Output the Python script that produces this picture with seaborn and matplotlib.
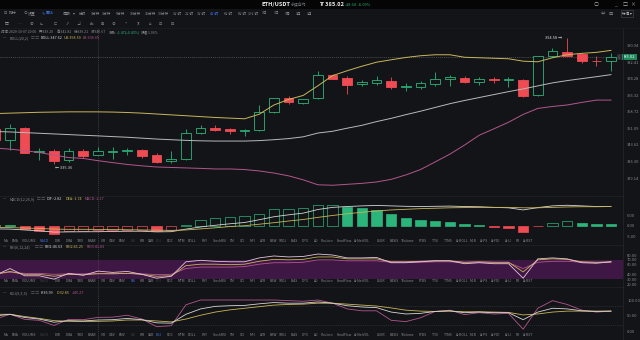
import matplotlib
matplotlib.use("Agg")
import matplotlib.pyplot as plt
import matplotlib.ticker as mticker
import numpy as np
import pandas as pd
import seaborn as sns

# ---------------- data ----------------
candle_idx = list(range(-1, 42))
opens = [350.6, 345.7, 351.4, 340.4, 340.7, 336.9, 340.9, 339.25, 340.4, 340.7, 341.4, 339.2, 336.3, 337.5,
         348.9, 351.0, 350.7, 349.6, 350.1, 358.7, 364.9, 362.8, 364.9, 375.9, 374.7, 371.8, 372.3, 373.4,
         370.2, 370.2, 371.8, 374.0, 374.7, 372.8, 374.2, 373.7, 373.9, 366.3, 385.3, 387.4, 386.4, 383.1, 382.8]
highs = [351.4, 353.2, 351.6, 342.0, 341.7, 342.4, 341.7, 342.82, 342.7, 342.4, 341.7, 340.2, 340.7, 350.6,
         352.6, 352.6, 351.4, 350.7, 362.0, 365.2, 365.9, 364.7, 377.9, 376.6, 375.5, 373.5, 375.5, 375.0,
         372.3, 373.1, 377.6, 376.3, 375.7, 375.0, 375.3, 375.2, 374.4, 385.7, 389.4, 394.58, 386.9, 385.3, 386.9]
lows = [344.8, 341.2, 340.0, 336.9, 335.36, 335.9, 337.6, 339.21, 337.3, 339.2, 337.9, 335.5, 335.6, 336.8,
        348.3, 349.8, 348.3, 347.5, 349.8, 358.2, 362.4, 362.4, 364.4, 374.0, 367.1, 370.7, 371.5, 369.6,
        368.3, 369.6, 370.7, 370.7, 372.1, 371.1, 372.3, 370.2, 365.7, 365.9, 385.0, 385.3, 382.0, 380.3, 378.2]
closes = [345.7, 351.4, 340.2, 340.9, 336.6, 340.9, 338.9, 340.67, 340.9, 341.5, 338.9, 336.2, 337.5, 349.1,
          351.0, 350.5, 349.6, 350.3, 358.7, 364.9, 363.0, 364.4, 376.3, 374.4, 371.5, 372.6, 373.5, 370.2,
          370.7, 372.1, 374.2, 375.0, 372.8, 374.2, 373.5, 374.4, 365.9, 385.3, 388.2, 385.7, 382.8, 382.8, 385.02]

boll_upper = [357.8, 358.0, 358.2, 358.4, 358.5, 358.6, 358.6, 358.59, 358.5, 358.3, 358.0, 357.6, 357.2, 356.8,
              356.4, 356.0, 355.7, 355.4, 357.5, 361.8, 364.4, 366.3, 370.9, 375.8, 378.2, 380.4, 382.4, 383.6,
              384.75, 385.6, 386.1, 386.1, 384.85, 384.6, 384.35, 384.1, 382.9, 382.6, 384.6, 386.1, 386.8, 387.3, 388.3]
boll_mid = [349.6, 349.4, 349.1, 348.8, 348.5, 348.2, 347.9, 347.62, 347.3, 347.0, 346.6, 346.2, 345.9, 345.6,
            345.4, 345.3, 345.3, 345.3, 345.5, 345.9, 346.4, 347.2, 348.9, 349.7, 351.1, 352.4, 354.1, 355.6,
            357.3, 358.9, 360.65, 362.4, 363.9, 365.3, 366.7, 368.1, 369.4, 370.85, 372.3, 373.4, 374.35, 375.3, 376.3]
boll_lower = [342.15, 341.7, 341.05, 340.2, 339.1, 338.0, 337.6, 336.65, 335.8, 335.0, 334.4, 333.9, 333.7, 333.5,
              333.3, 333.05, 333.05, 332.8, 332.2, 331.3, 330.1, 328.4, 326.3, 326.1, 326.5, 326.9, 327.5, 328.6,
              330.5, 332.8, 336.1, 339.5, 343.5, 347.9, 350.8, 353.8, 357.4, 360.2, 361.1, 361.8, 363.0, 364.1, 364.1]

macd_dif = [-1.5, -1.6, -2.0, -2.4, -3.0, -2.9, -2.85, -2.82, -2.7, -2.6, -2.6, -2.9, -2.8, -1.6, -0.6, 0.2,
            0.9, 1.5, 2.8, 4.2, 5.1, 5.9, 7.6, 8.6, 9.0, 9.3, 9.5, 9.3, 9.1, 9.0, 9.1, 9.2, 9.0, 8.9, 8.6,
            8.4, 7.4, 8.5, 9.3, 9.6, 9.3, 9.0, 9.0]
macd_dea = [-0.8, -0.9, -1.1, -1.3, -1.6, -1.7, -1.7, -1.74, -1.8, -1.9, -2.0, -2.1, -2.2, -2.0, -1.5, -1.0,
            -0.4, 0.0, 0.7, 1.4, 2.2, 2.9, 3.9, 4.8, 5.6, 6.3, 6.9, 7.4, 7.7, 8.0, 8.2, 8.4, 8.5, 8.6, 8.6,
            8.6, 8.4, 8.4, 8.6, 8.8, 8.9, 8.9, 9.0]
macd_hist = [0.5, 0.3, -1.7, -2.5, -4.0, -2.4, -2.3, -2.17, -2.1, -1.9, -1.8, -2.3, -1.9, 0.5, 2.7, 3.4,
             4.2, 4.5, 5.7, 7.8, 7.8, 8.1, 9.5, 9.6, 8.8, 8.1, 7.3, 5.5, 3.8, 2.7, 2.4, 1.8, 1.0, 0.4, -0.4,
             -1.3, -2.8, -0.15, 1.5, 2.2, 1.5, 0.8, 0.6]

rsi1 = [38, 52, 37, 37, 30, 42, 38, 46.63, 44, 46, 40, 32, 36, 66, 69, 67, 66, 66, 74, 78, 76, 77, 82, 80,
        74, 74, 75, 64, 64, 66, 68, 68, 62, 64, 62, 62, 32, 72, 74, 72, 64, 63, 66]
rsi2 = [40, 46, 40, 40, 36, 40, 39, 41.25, 41, 42, 40, 36, 37, 58, 61, 61, 60, 61, 67, 71, 70, 71, 76, 76,
        72, 72, 72, 66, 66, 67, 68, 68, 65, 66, 65, 65, 45, 70, 72, 71, 66, 65, 66]
rsi3 = [42, 44, 42, 42, 40, 41, 41, 41.83, 42, 42, 41, 39.5, 40, 52, 55, 55, 55, 56, 61, 64, 64, 65, 70, 70,
        68, 68, 68, 65, 65, 65, 66, 66, 64, 64.5, 64, 64, 52, 65, 67, 67, 65, 64, 64.5]

kdj_k = [50, 55, 45, 40, 30, 35, 34, 36.99, 38, 42, 38, 28, 27, 55, 72, 80, 82, 83, 88, 92, 90, 90, 94, 90,
         82, 78, 76, 62, 56, 58, 64, 66, 60, 62, 60, 60, 38, 62, 74, 72, 66, 64, 65]
kdj_d = [55, 55, 48, 42, 35, 33, 32, 32.85, 34, 37, 37, 34, 31, 40, 52, 62, 69, 74, 79, 84, 86, 87, 90, 90,
         87, 84, 81, 75, 68, 65, 64, 65, 63, 63, 62, 61, 53, 56, 62, 65, 65, 65, 65]
kdj_j = [40, 55, 39, 36, 20, 39, 38, 45.27, 46, 52, 40, 16, 19, 85, 100, 100, 100, 100, 100, 100, 98, 96, 100,
         90, 72, 66, 66, 36, 32, 44, 64, 68, 54, 60, 56, 58, 8, 74, 98, 86, 68, 62, 65]

price_ticks = [390.94, 382.41, 374.28, 366.32, 358.72, 351.09, 343.62, 336.30, 329.14]
macd_ticks = [5.0, 0.0, -5.0]
rsi_ticks = [80, 70, 60, 40, 30, 20]
kdj_ticks = [100, 50, 0]
last_price = 385.02
high_mark = 394.58
low_mark = 335.36

# ---------------- style ----------------
sns.set_theme(style="dark")
BG = "#131417"
TXT = "#878a90"
DIM = "#3c3e44"
BLUE = "#3d7bf0"
GREEN = "#2bb57a"
RED = "#ef4b53"
YEL = "#c9b65a"
WHITE = "#d6d6d6"
PINK = "#b3568e"
PURP_FILL = "#3f1744"
FAMS = ["Noto Sans CJK SC", "DejaVu Sans", "Noto Sans"]
plt.rcParams["font.family"] = FAMS
plt.rcParams["axes.unicode_minus"] = False

W, H = 640, 340
PLOT_R = 623
X_LO = -0.682
X_HI = 41.81

fig = plt.figure(figsize=(6.4, 3.4), dpi=100)
fig.patch.set_facecolor(BG)


def ftext(x, y, s, **kw):
    kw.setdefault("fontsize", 3.0)
    kw.setdefault("color", TXT)
    kw.setdefault("va", "center")
    kw.setdefault("ha", "left")
    fig.text(x / W, 1 - y / H, s, **kw)


def px_axes(y0, y1):
    ax = fig.add_axes([0, 1 - y1 / H, PLOT_R / W, (y1 - y0) / H])
    ax.set_facecolor(BG)
    for s in ax.spines.values():
        s.set_visible(False)
    ax.grid(False)
    return ax


def finish(ax):
    ax.set_xlim(X_LO, X_HI)
    ax.set_xticks([])
    ax.set_xlabel("")
    ax.set_ylabel("")
    ax.yaxis.tick_right()
    ax.tick_params(axis="y", length=0, labelsize=2.9, labelcolor=TXT, pad=3)
    ax.axvline(6, color="#4a4c52", lw=0.5, ls=(0, (1.5, 1.5)), zorder=1)


# ---------------- main candle panel ----------------
ax = px_axes(28, 196)
df = pd.DataFrame(dict(i=candle_idx, o=opens, h=highs, l=lows, c=closes))
up = (df.c >= df.o).to_numpy()
cols = np.where(up, GREEN, RED)
ax.vlines(df.i, df.l, df.h, colors=cols, linewidth=0.6, zorder=2)
bottoms = np.minimum(df.o, df.c)
heights = np.maximum(np.abs(df.c - df.o), 0.12)
ax.bar(df.i, heights, bottom=bottoms, width=0.66, color=np.where(up, BG, RED),
       edgecolor=cols, linewidth=0.6, zorder=3)
sns.lineplot(x=candle_idx, y=boll_upper, ax=ax, color=YEL, linewidth=0.7, zorder=4)
sns.lineplot(x=candle_idx, y=boll_mid, ax=ax, color="#b9b9b9", linewidth=0.7, zorder=4)
sns.lineplot(x=candle_idx, y=boll_lower, ax=ax, color=PINK, linewidth=0.7, zorder=4)
ax.set_yscale("log")
ax.set_ylim(321.6, 399.7)
ax.yaxis.set_major_locator(mticker.FixedLocator(price_ticks))
ax.yaxis.set_major_formatter(mticker.FixedFormatter([f"{v:.2f}" for v in price_ticks]))
ax.yaxis.set_minor_locator(mticker.NullLocator())
finish(ax)
ax.axhline(last_price, color="#5d6066", lw=0.5, ls=(0, (1.5, 1.5)), zorder=1)
hi_i = candle_idx[highs.index(high_mark)]
lo_i = candle_idx[lows.index(low_mark)]
ax.annotate(f"{high_mark:.2f} →", (hi_i - 0.35, high_mark), ha="right", va="center",
            fontsize=2.9, color=WHITE)
ax.annotate(f"← {low_mark:.2f}", (lo_i + 0.1, low_mark * 0.9975), ha="left", va="top",
            fontsize=2.9, color=WHITE)
ax.text(1.0, last_price, f"{last_price:.2f}", transform=ax.get_yaxis_transform(),
        ha="left", va="center", fontsize=2.9, color="white",
        bbox=dict(boxstyle="square,pad=0.35", fc="#1f8a5b", ec="none"))
ax.text(0.994, last_price, "$", transform=ax.get_yaxis_transform(), ha="center", va="center",
        fontsize=2.8, color=TXT, bbox=dict(boxstyle="square,pad=0.3", fc="#2a2c31", ec="none"))

# ---------------- MACD panel ----------------
axm = px_axes(196, 245)
hist = np.array(macd_hist)
prev = np.concatenate([[hist[0] + 1], hist[:-1]])
filled = hist < prev
hcol = np.where(hist >= 0, GREEN, RED)
axm.bar(candle_idx, hist, width=0.7, color=np.where(filled, hcol, BG), edgecolor=hcol,
        linewidth=0.5, zorder=3)
sns.lineplot(x=candle_idx, y=macd_dif, ax=axm, color=WHITE, linewidth=0.6, zorder=4)
sns.lineplot(x=candle_idx, y=macd_dea, ax=axm, color=YEL, linewidth=0.6, zorder=4)
axm.set_ylim(-9.06, 13.94)
axm.set_yticks(macd_ticks)
axm.set_yticklabels([f"{v:.2f}" for v in macd_ticks])
finish(axm)

# ---------------- RSI panel ----------------
axr = px_axes(245, 287)
axr.axhspan(30, 70, color=PURP_FILL, zorder=0, lw=0)
sns.lineplot(x=candle_idx, y=rsi3, ax=axr, color=PINK, linewidth=0.6, zorder=3)
sns.lineplot(x=candle_idx, y=rsi2, ax=axr, color=YEL, linewidth=0.6, zorder=3)
sns.lineplot(x=candle_idx, y=rsi1, ax=axr, color="#e6c3df", linewidth=0.6, zorder=3)
axr.set_ylim(13.8, 100.7)
axr.set_yticks(rsi_ticks)
axr.set_yticklabels([f"{v:.2f}" for v in rsi_ticks])
finish(axr)

# ---------------- KDJ panel ----------------
axk = px_axes(287, 340)
for lvl in (80, 20):
    axk.axhline(lvl, color="#34363b", lw=0.5, ls=(0, (1.5, 1.5)), zorder=1)
sns.lineplot(x=candle_idx, y=kdj_j, ax=axk, color=PINK, linewidth=0.6, zorder=3)
sns.lineplot(x=candle_idx, y=kdj_d, ax=axk, color=YEL, linewidth=0.6, zorder=3)
sns.lineplot(x=candle_idx, y=kdj_k, ax=axk, color=WHITE, linewidth=0.6, zorder=3)
axk.set_ylim(-26, 141)
axk.set_yticks(kdj_ticks)
axk.set_yticklabels([f"{v:.2f}" for v in kdj_ticks])
finish(axk)

# ---------------- chrome: title bar, toolbar, separators ----------------
fig.add_artist(plt.Rectangle((0, 1 - 9 / H), 1, 9 / H, transform=fig.transFigure,
                             fc="#050505", ec="none", zorder=0))
for yy in (196, 245, 287):
    fig.add_artist(plt.Line2D([0, PLOT_R / W], [1 - yy / H] * 2, transform=fig.transFigure,
                              color="#222328", lw=0.5))
fig.add_artist(plt.Line2D([PLOT_R / W] * 2, [0, 1 - 28 / H], transform=fig.transFigure,
                          color="#26272c", lw=0.5))
fig.add_artist(plt.Line2D([0, 1], [1 - 28 / H] * 2, transform=fig.transFigure,
                          color="#1d1e22", lw=0.5))

ftext(262, 4.6, "ETH/USDT", fontsize=4.1, color="#eeeeee", weight="bold")
ftext(291, 4.6, "永续合约", fontsize=2.8, color=TXT)
ftext(320, 4.6, "₮ 385.02", fontsize=4.1, color="#eeeeee", weight="bold")
ftext(345, 4.6, "+18.64", fontsize=2.8, color=GREEN)
ftext(358, 4.6, "+5.09%", fontsize=2.8, color=GREEN)
for s, x in (("○", 596), ("_", 616), ("□", 625), ("×", 633)):
    ftext(x, 4.6, s, fontsize=3.6, color="#b0b0b0", ha="center")

# toolbar row 1
for s, x, c in (("⊡", 4, TXT), ("指标", 9, TXT), ("⊙", 23, TXT), ("设置", 28, TXT),
                ("✎", 42, BLUE), ("画线", 46, BLUE), ("周期", 63, TXT), ("▾", 73, TXT)):
    ftext(x, 13.5, s, fontsize=2.8, color=c)
periods = ["分时", "1分钟", "3分钟", "5分钟", "10分钟", "15分钟", "30分钟", "1小时", "2小时", "3小时",
           "4小时", "6小时", "8小时", "12小时", "1日", "3日", "1周", "1月", "3月"]
period_x = [82, 95, 107, 120, 135, 150, 163, 177, 189, 202, 215, 228, 242, 253, 265, 277, 288, 299, 310]
for s, x in zip(periods, period_x):
    ftext(x, 13.5, s, fontsize=2.6, color=BLUE if s == "4小时" else TXT, ha="center")
for s, x in (("⇔", 603), ("⊠", 611)):
    ftext(x, 13.5, s, fontsize=3.1, color=TXT, ha="center")
ftext(627, 13.5, "标准 ▾", fontsize=2.6, color="#c8c8c8", ha="center",
      bbox=dict(boxstyle="square,pad=0.3", fc="none", ec="#4a4c52", lw=0.4))

# toolbar row 2 (drawing icons)
icons = ["▤", "⋯", "⊕", "⊾", "⊏", "⁄⁄", "⊿", "Aa", "⊞", "⊘", "⌁", "⊼", "⌂", "⊡", "⊟"]
icon_x = [7, 20, 31, 41, 55, 67, 79, 92, 102, 113, 126, 138, 150, 160, 172]
for s, x in zip(icons, icon_x):
    ftext(x, 24, s, fontsize=2.8, color="#8f9197", ha="center")

# info row (crosshair candle)
for s, x, c in (("时间:2020-10-07 20:00", 1, TXT), ("开:339.20", 39, TXT), ("高:342.82", 57, TXT),
                ("低:339.21", 74, TXT), ("收:340.67", 91, TXT), ("涨跌:", 109, TXT),
                ("+1.47(+0.43%)", 117, GREEN), ("振幅:1.06%", 141, TXT)):
    ftext(x, 32.3, s, fontsize=2.5, color=c)


def header(y, name, parts):
    ftext(3, y, "—", fontsize=2.8)
    ftext(10, y, name, fontsize=2.7)
    x = 10 + len(name) * 1.9 + 2
    ftext(x, y, "▢ ▢", fontsize=2.6, color="#5a5c62")
    x += 10
    for s, c in parts:
        ftext(x, y, s, fontsize=2.7, color=c)
        x += len(s) * 1.8 + 3


header(38, "BOLL(20,2)", [("BOLL:347.62", WHITE), ("UB:358.59", YEL), ("LB:336.65", PINK)])
header(199.5, "MACD(12,26,9)", [("DIF:-2.82", WHITE), ("DEA:-1.74", YEL), ("MACD:-2.17", PINK)])
header(247.5, "RSI(6,12,24)", [("RSI1:46.63", WHITE), ("RSI2:41.25", YEL), ("RSI3:41.83", PINK)])
header(293, "KDJ(9,3,3)", [("K:36.99", WHITE), ("D:32.85", YEL), ("J:45.27", PINK)])

# indicator tab rows
tab_labels = ["MA", "EMA", "VOLUME", "MACD", "DMI", "DMA", "TRIX", "BRAR", "VR", "OBV", "EMV", "RSI", "WR",
              "SAR", "KDJ", "ROC", "MTM", "BOLL", "PSY", "StochRSI", "SM", "CCI", "MFI", "ATR", "BBW", "SKDJ",
              "BIAS", "DPO", "AO", "Position", "FundFlow", "AI-NetVOL", "LSUR", "BASIS", "TVolume", "FTBS",
              "TTSI", "TTMS", "AI-BOLL", "MLR", "AI-PS", "AI-FDI", "AI-LI", "FR", "AI-BST"]
tab_x = [6, 15, 29, 44, 58, 69, 80, 92, 103, 112, 122, 133, 142, 151, 159, 170, 181, 192, 205, 220, 232,
         242, 252, 263, 273, 283, 294, 305, 316, 327, 344, 362, 381, 394, 408, 423, 435, 448, 462, 473,
         484, 496, 508, 518, 528]
used = ("MACD", "RSI", "KDJ")
for y, active in ((240.5, "MACD"), (280.5, "RSI"), (335.5, "KDJ")):
    for s, x in zip(tab_labels, tab_x):
        c = BLUE if s == active else (DIM if s in used else TXT)
        ftext(x, y, s, fontsize=2.4, color=c, ha="center")

fig.savefig("out.png", dpi=100, facecolor=BG)
